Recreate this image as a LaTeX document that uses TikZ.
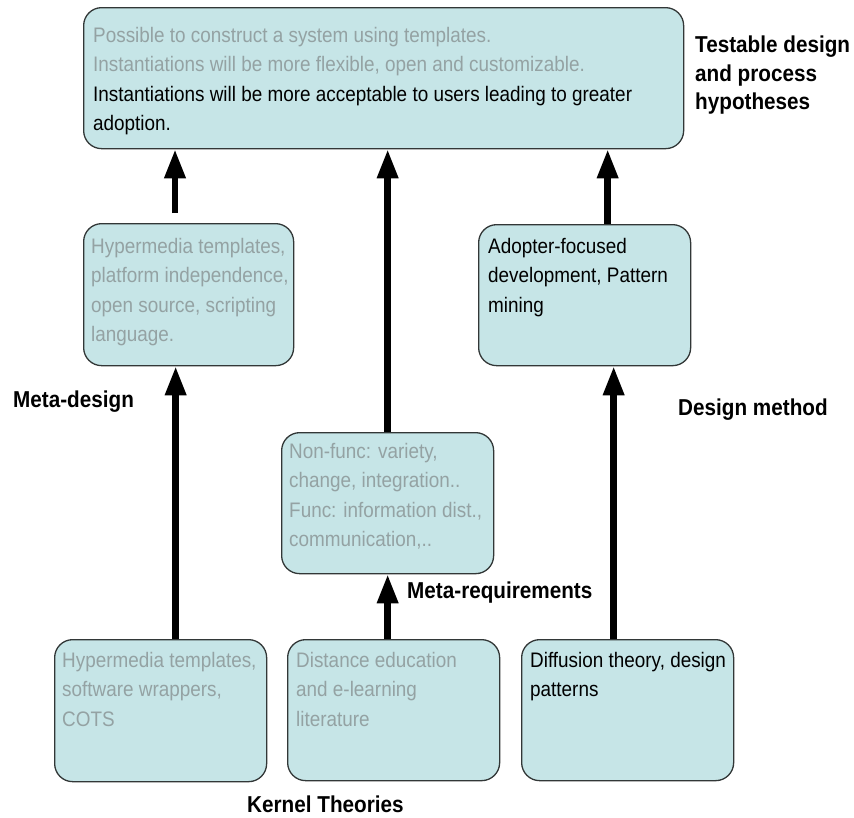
\documentclass[tikz,border=0pt]{standalone}
\usepackage{fontspec}
\setmainfont[FakeStretch=0.9]{Liberation Sans}
\usetikzlibrary{arrows.meta}
\definecolor{boxfill}{RGB}{198,229,231}
\definecolor{greytext}{RGB}{148,162,163}
\definecolor{boxline}{RGB}{50,55,55}
\begin{document}
\begin{tikzpicture}[x=1pt,y=-1pt,
  box/.style={draw=boxline, line width=1.3pt, fill=boxfill, rounded corners=18pt,
    inner sep=0pt, anchor=north west},
  body/.style={font=\fontsize{21}{29.5}\selectfont, align=left, inner sep=0pt,
    anchor=north west},
  lbl/.style={font=\fontsize{23}{28.5}\selectfont\bfseries, align=left, inner sep=0pt},
  arr/.style={line width=6.5pt, -{Triangle[width=20pt,length=29pt]}}]
\useasboundingbox (0,0) rectangle (854,817);
% boxes
\node[box, minimum width=600pt, minimum height=141pt] (top) at (83,7) {};
\node[box, minimum width=210pt, minimum height=142pt] (meta) at (83,223) {};
\node[box, minimum width=212pt, minimum height=141pt] (adopt) at (478,224) {};
\node[box, minimum width=212pt, minimum height=141pt] (req) at (281,432) {};
\node[box, minimum width=212pt, minimum height=142pt] (kl) at (54,639) {};
\node[box, minimum width=212pt, minimum height=141pt] (km) at (287,639) {};
\node[box, minimum width=212pt, minimum height=141pt] (kr) at (521,639) {};
% box texts
\node[body] (ttop) at (93,27) {\textcolor{greytext}{Possible to construct a system using templates.}\\
  \textcolor{greytext}{Instantiations will be more flexible, open and customizable.}\\
  Instantiations will be more acceptable to users leading to greater\\
  adoption.};
\node[body, text=greytext] (tmeta) at (91,238) {Hypermedia templates,\\platform independence,\\open source, scripting\\language.};
\node[body] (tadopt) at (488,238) {Adopter-focused\\development, Pattern\\mining};
\node[body, text=greytext] (treq) at (289,443) {Non-func: variety,\\change, integration..\\Func: information dist.,\\communication,..};
\node[body, text=greytext] (tkl) at (62,652) {Hypermedia templates,\\software wrappers,\\COTS};
\node[body, text=greytext] (tkm) at (296,652) {Distance education\\and e-learning\\literature};
\node[body] (tkr) at (530,652) {Diffusion theory, design\\patterns};
% labels
\node[lbl, anchor=north west] (ltest) at (695,36) {Testable design\\and process\\hypotheses};
\node[lbl, anchor=base west] (lmeta) at (13,407) {Meta-design};
\node[lbl, anchor=base west] (lmethod) at (678,415) {Design method};
\node[lbl, anchor=base west] (lreq) at (407,598) {Meta-requirements};
\node[lbl, anchor=base west] (lkern) at (247,812) {Kernel Theories};
% arrows
\coordinate (a1) at (175,213);
\draw[arr] (a1) -- (a1 |- top.south);
\draw[arr] (req.north) -- (req.north |- top.south);
\draw[arr] ([xshift=23pt]adopt.north) -- ([xshift=23pt]adopt.north |- top.south);
\draw[arr] ([xshift=15pt]kl.north) -- ([xshift=15pt]kl.north |- meta.south);
\draw[arr] ([xshift=-6pt]km.north) -- ([xshift=-6pt]km.north |- req.south);
\draw[arr] ([xshift=-14pt]kr.north) -- ([xshift=-14pt]kr.north |- adopt.south);
\end{tikzpicture}
\end{document}
